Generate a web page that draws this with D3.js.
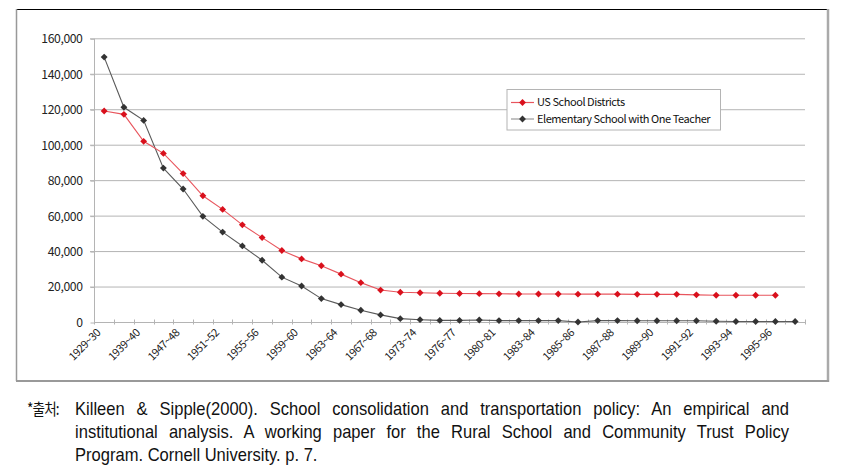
<!DOCTYPE html>
<html><head><meta charset="utf-8">
<script src="https://cdn.jsdelivr.net/npm/d3@7"></script>
<style>
body{margin:0;background:#fff;}
svg{display:block;}
</style></head>
<body>
<svg id="chart" width="849" height="476"></svg>
<script>
const categories = ["1929~30","1937~38","1939~40","1945~46","1947~48","1949~50","1951~52","1953~54","1955~56","1957~58","1959~60","1961~62","1963~64","1965~66","1967~68","1970~71","1973~74","1975~76","1976~77","1978~79","1980~81","1982~83","1983~84","1984~85","1985~86","1986~87","1987~88","1988~89","1989~90","1990~91","1991~92","1992~93","1993~94","1994~95","1995~96","1996~97"];
const tickLabels = ["1929~30","1939~40","1947~48","1951~52","1955~56","1959~60","1963~64","1967~68","1973~74","1976~77","1980~81","1983~84","1985~86","1987~88","1989~90","1991~92","1993~94","1995~96"];
const districts = [119000,117100,101900,95100,83700,71200,63500,54800,47600,40300,35600,31700,27000,22200,18000,16800,16500,16200,16100,16000,15900,15800,15800,15800,15700,15700,15700,15600,15600,15600,15300,15100,15100,15100,15100];
const oneTeacher = [149400,121100,113700,86800,75000,59600,50700,42900,34800,25300,20300,13200,9800,6600,4000,1900,1300,900,900,1100,800,800,800,800,0,800,800,700,700,700,700,400,300,300,300,300];
const yTicks = [0,20000,40000,60000,80000,100000,120000,140000,160000];
const seriesNames = ["US School Districts","Elementary School with One Teacher"];
const colors = {red:"#d9101c", redLine:"#e8555d", dark:"#333333", darkLine:"#5a5a5a"};

const svg = d3.select("#chart");
const x = d3.scaleBand().domain(categories).range([94.3, 805]);
const y = d3.scaleLinear().domain([0,160000]).range([322, 38.3]);
const tickFont = "'Noto Sans CJK KR','Noto Sans',sans-serif";

// frame
svg.append("line").attr("x1",16).attr("x2",828).attr("y1",9.5).attr("y2",9.5).attr("stroke","#000").attr("stroke-width",1.2);
svg.append("line").attr("x1",16.5).attr("x2",16.5).attr("y1",9).attr("y2",381).attr("stroke","#999").attr("stroke-width",1.5);
svg.append("line").attr("x1",828).attr("x2",828).attr("y1",9).attr("y2",382).attr("stroke","#aaa").attr("stroke-width",2.5);
svg.append("line").attr("x1",16).attr("x2",829).attr("y1",381).attr("y2",381).attr("stroke","#999").attr("stroke-width",2);

// gridlines
svg.append("g").selectAll("line").data(yTicks.filter(d=>d>0)).join("line")
  .attr("x1",90).attr("x2",805).attr("y1",d=>y(d)+0.5).attr("y2",d=>y(d)+0.5)
  .attr("stroke","#b4b4b4").attr("stroke-width",1);

// y axis
const yAxis = d3.axisLeft(y).tickValues(yTicks).tickSize(4).tickPadding(8).tickFormat(d3.format(","));
const gy = svg.append("g").attr("transform","translate(94.5,0.5)").call(yAxis);
gy.select(".domain").attr("stroke","#b4b4b4").attr("d","M0,"+y(160000)+"V"+y(0));
gy.selectAll(".tick line").attr("stroke","#b4b4b4");
gy.selectAll("text").attr("font-family",tickFont).attr("font-size",12.2).attr("fill","#222").attr("letter-spacing","-0.4px");

// x axis
const xAxis = d3.axisBottom(x).tickSize(0).tickFormat(d=>tickLabels.includes(d)?d:"");
const gx = svg.append("g").attr("transform","translate(0,322.5)").call(xAxis);
gx.select(".domain").attr("stroke","#b4b4b4").attr("d","M94.3,0H805");
const bounds = categories.map(c=>x(c)).concat([805]);
gx.append("g").selectAll("line").data(bounds).join("line")
  .attr("x1",d=>Math.round(d)+0.5).attr("x2",d=>Math.round(d)+0.5).attr("y1",-3).attr("y2",2)
  .attr("stroke","#b4b4b4");
gx.selectAll(".tick text")
  .attr("font-family",tickFont).attr("font-size",11).attr("fill","#222").attr("letter-spacing","-0.5px")
  .attr("text-anchor","end").attr("dy",0).attr("y",0)
  .attr("transform","translate(-3,11) rotate(-45)");

// series
const cx = i => x(categories[i]) + x.bandwidth()/2;
const line = d3.line().x((d,i)=>cx(i)).y(d=>y(d));
const diamond = d3.symbol().type(d3.symbolDiamond2).size(30);

function drawSeries(data, lc, mc){
  svg.append("path").datum(data).attr("d",line).attr("fill","none").attr("stroke",lc).attr("stroke-width",1.1);
  svg.append("g").selectAll("path").data(data).join("path")
    .attr("d",diamond).attr("transform",(d,i)=>`translate(${cx(i)},${y(d)})`).attr("fill",mc);
}
drawSeries(oneTeacher, colors.darkLine, colors.dark);
drawSeries(districts, colors.redLine, colors.red);

// legend
const lg = svg.append("g");
lg.append("rect").attr("x",507).attr("y",89.5).attr("width",213.5).attr("height",40.5).attr("fill","#fff").attr("stroke","#b4b4b4");
const items = [{n:seriesNames[0],lc:colors.redLine,mc:colors.red,yy:102.5},{n:seriesNames[1],lc:"#999",mc:colors.dark,yy:119}];
items.forEach(it=>{
  lg.append("line").attr("x1",511).attr("x2",534).attr("y1",it.yy).attr("y2",it.yy).attr("stroke",it.lc).attr("stroke-width",1.2);
  lg.append("path").attr("d",diamond).attr("transform",`translate(522.5,${it.yy})`).attr("fill",it.mc);
  lg.append("text").attr("x",537).attr("y",it.yy).attr("dy","0.35em").text(it.n)
    .attr("font-family",tickFont).attr("font-size",11).attr("fill","#111").attr("letter-spacing","-0.45px");
});

// caption
const capFont = "'Liberation Sans','Arial',sans-serif";
const sx = 0.92;
const cap = svg.append("g").attr("font-family",capFont).attr("font-size",18).attr("fill","#111");
cap.append("text").attr("transform","translate(27,415) scale(0.85,1)").text("*출처:")
  .attr("font-family","'Noto Sans CJK KR',sans-serif").attr("font-size",16).attr("letter-spacing","-1px");
const capLines = [
  {t:"Killeen & Sipple(2000). School consolidation and transportation policy: An empirical and", j:true, yy:415},
  {t:"institutional analysis. A working paper for the Rural School and Community Trust Policy", j:true, yy:438},
  {t:"Program. Cornell University. p. 7.", j:false, yy:461}
];
capLines.forEach(l=>{
  const tx = cap.append("text").attr("transform",`translate(75,${l.yy}) scale(${sx},1)`).text(l.t);
  if(l.j){
    const w = tx.node().getComputedTextLength();
    const spaces = (l.t.match(/ /g)||[]).length;
    tx.attr("word-spacing",((789-75)/sx-w)/spaces);
  }
});
</script>
</body></html>
